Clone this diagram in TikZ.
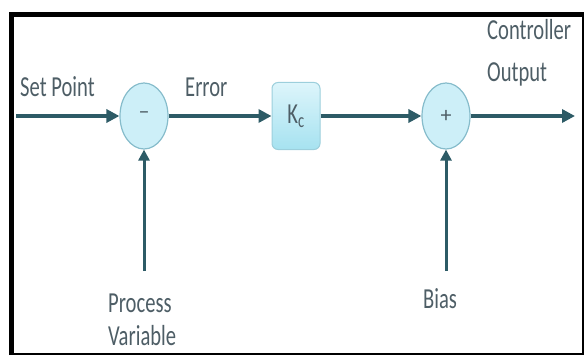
\documentclass[tikz,border=0pt]{standalone}
\usepackage{fontspec}
\setmainfont{Carlito}
\usetikzlibrary{arrows.meta,shapes.geometric}

\definecolor{flow}{HTML}{2D5B66}
\definecolor{ink}{HTML}{4E5E66}
\definecolor{sumfill}{HTML}{CDEFF8}
\definecolor{sumedge}{HTML}{86BCCB}
\definecolor{gaintop}{HTML}{DDF5FB}
\definecolor{gainbot}{HTML}{A6E2F0}
\definecolor{gainedge}{HTML}{9CCFDC}

% labels are set in a condensed version of the text face
\newcommand\narrowtext[1]{\scalebox{0.71}[1]{#1}}

\begin{document}
\begin{tikzpicture}[x=1pt,y=-1pt,
  lbl/.style={text=ink, font=\fontsize{29}{29}\selectfont, inner sep=0pt},
  junction/.style={ellipse, draw=sumedge, line width=1.2pt, fill=sumfill,
    minimum width=48pt, minimum height=66pt, inner sep=0pt, text=ink,
    font=\fontsize{22}{22}\selectfont},
  gain/.style={rectangle, rounded corners=6pt, draw=gainedge, line width=1pt,
    top color=gaintop, bottom color=gainbot, minimum width=48pt,
    minimum height=67pt, inner sep=0pt, text=ink,
    font=\fontsize{29}{29}\selectfont},
  flowline/.style={draw=flow, line width=4pt, -{Triangle[length=13pt,width=13pt]}},
  feedline/.style={draw=flow, line width=3pt, -{Triangle[length=11pt,width=11pt]}}
]
\useasboundingbox (0,0) rectangle (585,358);

% outer frame
\draw[line width=5pt] (11,355) -- (11,14.5) -- (584,14.5);
\draw[line width=2.5pt] (583,14) -- (583,354) -- (9,354);

% blocks
\node[junction] (minus) at (144,116) {\raisebox{1pt}{--}};
\node[gain] (kc) at (296,116) {\narrowtext{K\textsubscript{c}}};
\node[junction] (plus) at (446,116) {+};

% free ends
\coordinate (sp) at (16,116);
\coordinate (out) at (575,116);
\coordinate (pv) at (144,271);
\coordinate (bias) at (446,271);

% signal paths
\draw[flowline] (sp) -- (minus);
\draw[flowline] (minus) -- (kc);
\draw[flowline] (kc) -- (plus);
\draw[flowline] (plus) -- (out);
\draw[feedline] (pv) -- (minus);
\draw[feedline] (bias) -- (plus);

% labels
\node[lbl, anchor=base west] (setpt) at (20,97) {\narrowtext{Set Point}};
\node[lbl, anchor=base west] (err) at (185,97) {\narrowtext{Error}};
\node[lbl, anchor=base west] (ctrl) at (487,40) {\narrowtext{Controller}};
\node[lbl, anchor=base west] (outp) at (487,82) {\narrowtext{Output}};
\node[lbl, anchor=base west] (proc) at (108,312) {\narrowtext{Process}};
\node[lbl, anchor=base west] (var) at (108,345) {\narrowtext{Variable}};
\node[lbl, anchor=base west] (biaslbl) at (423,308) {\narrowtext{Bias}};
\end{tikzpicture}
\end{document}
